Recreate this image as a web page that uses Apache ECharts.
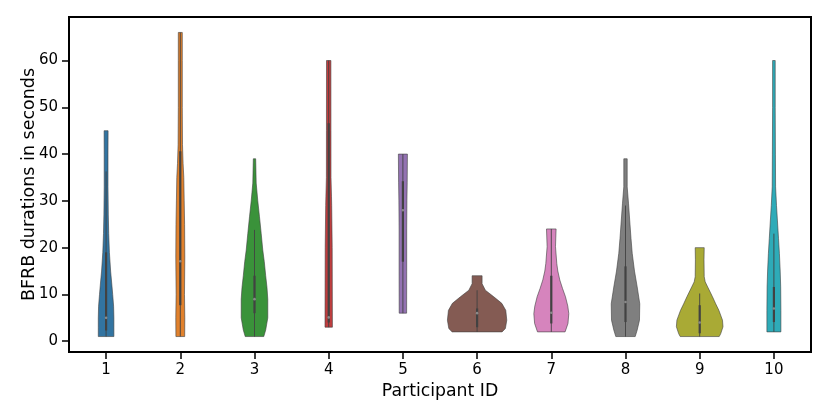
<!DOCTYPE html>
<html lang="en">
<head>
    <meta charset="UTF-8">
    <title>BFRB durations per participant</title>
    <script src="https://cdn.jsdelivr.net/npm/echarts@6.0.0/dist/echarts.min.js"></script>
    <style>
        html, body { margin: 0; padding: 0; background: #fff; }
        #chart { width: 830px; height: 415px; }
    </style>
</head>
<body>
    <div id="chart"></div>

    <script>
        // categories
        const participants = ['1', '2', '3', '4', '5', '6', '7', '8', '9', '10'];
        const colors = ['#3274a1', '#e1812c', '#3a923a', '#c03d3e', '#9372b2',
                        '#845b53', '#d684bd', '#7f7f7f', '#a9aa35', '#2eabb8'];

        // kde profile of each violin: duration levels and relative half widths (1 = widest)
        const profileLevels = [
            [1, 3, 5, 7.5, 10, 12, 15, 19, 23, 27, 33, 40, 45],
            [1, 5, 10, 15, 18, 25, 30, 35, 38, 42, 50, 60, 66],
            [1, 2.4, 5, 9, 11.5, 14, 17, 19.5, 23, 26.6, 30, 33.8, 39],
            [3, 20, 29, 31, 35, 45, 60],
            [6, 15, 24, 30, 34, 40],
            [2, 2.7, 4.5, 6.6, 8.1, 9.5, 10.9, 12.3, 14],
            [2, 3.8, 5.9, 7.5, 9.5, 11.3, 13.1, 15, 16.6, 20.2, 24],
            [1, 2.4, 4.5, 8, 11.6, 15, 18.8, 22, 25.9, 29.5, 33, 39],
            [1, 1.6, 3.1, 4.5, 6.6, 8, 9.5, 10.5, 11.6, 12.7, 13.8, 17.4, 20],
            [2, 6.6, 11.6, 15, 18.8, 22, 25.9, 29, 33, 40, 50, 60]
        ];
        const profileWidths = [
            [0.263, 0.263, 0.263, 0.253, 0.222, 0.195, 0.152, 0.111, 0.088, 0.074, 0.064, 0.064, 0.067],
            [0.148, 0.152, 0.141, 0.148, 0.152, 0.145, 0.131, 0.118, 0.094, 0.074, 0.067, 0.067, 0.067],
            [0.313, 0.377, 0.448, 0.448, 0.421, 0.377, 0.330, 0.279, 0.226, 0.168, 0.111, 0.057, 0.040],
            [0.125, 0.118, 0.101, 0.094, 0.078, 0.076, 0.074],
            [0.125, 0.128, 0.128, 0.135, 0.145, 0.152],
            [0.842, 0.953, 1.000, 0.966, 0.832, 0.562, 0.279, 0.168, 0.168],
            [0.465, 0.562, 0.589, 0.556, 0.478, 0.377, 0.286, 0.219, 0.185, 0.141, 0.162],
            [0.327, 0.394, 0.471, 0.481, 0.394, 0.303, 0.226, 0.185, 0.141, 0.101, 0.057, 0.057],
            [0.657, 0.707, 0.785, 0.768, 0.646, 0.539, 0.431, 0.354, 0.269, 0.185, 0.152, 0.145, 0.152],
            [0.236, 0.236, 0.229, 0.212, 0.185, 0.155, 0.118, 0.088, 0.057, 0.051, 0.044, 0.044]
        ];

        // inner box statistics
        const whiskerLow  = [1, 1, 1, 3, 6, 2, 2, 1, 1, 2];
        const quartile1   = [2.3, 7.7, 6, 4, 17, 3, 3.8, 4.1, 1.7, 4.1];
        const medians     = [5, 17.1, 9, 5.1, 28, 6, 6.1, 8.4, 4, 7];
        const quartile3   = [19, 40.6, 14, 46.6, 34.2, 7, 14, 16, 7.7, 11.6];
        const whiskerHigh = [36.3, 66, 23.8, 60, 40, 10.9, 24, 29, 10.2, 23];

        const yTicks = [0, 10, 20, 30, 40, 50, 60];

        const chart = echarts.init(document.getElementById('chart'));
        const font = 'DejaVu Sans';

        function renderViolin(params, api) {
            const i = api.value(0);
            const band = api.size([1, 0])[0];
            const cx = api.coord([i, 0])[0];
            const maxHalf = band * 0.4;
            const levels = profileLevels[i];
            const widths = profileWidths[i];

            const right = levels.map((v, k) => [cx + widths[k] * maxHalf, api.coord([i, v])[1]]);
            const left = levels.map((v, k) => [cx - widths[k] * maxHalf, api.coord([i, v])[1]]).reverse();

            const yLo = api.coord([i, whiskerLow[i]])[1];
            const yHi = api.coord([i, whiskerHigh[i]])[1];
            const yQ1 = api.coord([i, quartile1[i]])[1];
            const yQ3 = api.coord([i, quartile3[i]])[1];
            const yMed = api.coord([i, medians[i]])[1];

            return {
                type: 'group',
                children: [
                    {
                        type: 'polygon',
                        shape: { points: right.concat(left) },
                        style: { fill: colors[i], stroke: 'rgba(64,64,64,0.75)', lineWidth: 0.8 }
                    },
                    {
                        type: 'line',
                        shape: { x1: cx, y1: yLo, x2: cx, y2: yHi },
                        style: { stroke: '#424242', lineWidth: 0.9 }
                    },
                    {
                        type: 'line',
                        shape: { x1: cx, y1: yQ1, x2: cx, y2: yQ3 },
                        style: { stroke: '#424242', lineWidth: 2.2 }
                    },
                    {
                        type: 'circle',
                        shape: { cx: cx, cy: yMed, r: 1.3 },
                        style: { fill: '#8a8a8a' }
                    }
                ]
            };
        }

        const option = {
            animation: false,
            grid: {
                left: 69,
                right: 19,
                top: 17,
                bottom: 63,
                show: true,
                borderColor: '#000',
                borderWidth: 2
            },
            xAxis: {
                type: 'category',
                data: participants,
                boundaryGap: true,
                name: 'Participant ID',
                nameLocation: 'middle',
                nameGap: 31,
                nameMoveOverlap: false,
                nameTextStyle: { color: '#000', fontSize: 17.3, fontFamily: font },
                axisLine: { show: true, onZero: false, lineStyle: { color: '#000', width: 2 } },
                axisTick: { show: true, alignWithLabel: true, length: 7, lineStyle: { color: '#000', width: 1.5 } },
                axisLabel: { color: '#000', fontSize: 15, fontFamily: font, margin: 11 },
                splitLine: { show: false }
            },
            yAxis: {
                type: 'value',
                min: -2.3,
                max: 69.3,
                name: 'BFRB durations in seconds',
                nameLocation: 'middle',
                nameGap: 31,
                nameMoveOverlap: false,
                nameTextStyle: { color: '#000', fontSize: 17.5, fontFamily: font },
                axisLine: { show: true, onZero: false, lineStyle: { color: '#000', width: 2 } },
                axisTick: { show: true, length: 7, customValues: yTicks, lineStyle: { color: '#000', width: 1.5 } },
                axisLabel: { color: '#000', fontSize: 15, fontFamily: font, margin: 11, customValues: yTicks },
                splitLine: { show: false }
            },
            series: [
                {
                    type: 'custom',
                    renderItem: renderViolin,
                    data: participants.map((p, i) => [i]),
                    encode: { x: 0 },
                    clip: true
                }
            ]
        };

        chart.setOption(option);
    </script>
</body>
</html>
